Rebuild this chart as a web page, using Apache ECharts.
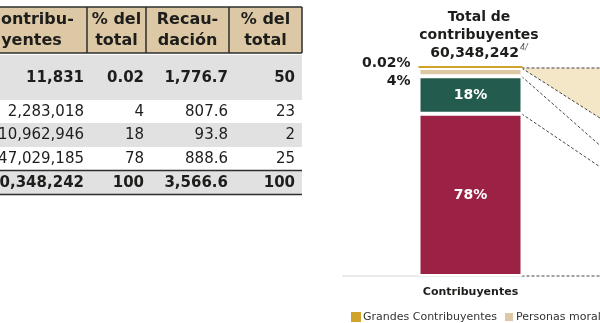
<!DOCTYPE html>
<html>
<head>
<meta charset="utf-8">
<script src="https://cdn.jsdelivr.net/npm/echarts@6/dist/echarts.min.js"></script>
<style>
  html, body { margin: 0; padding: 0; background: #fff; }
  #chart { width: 600px; height: 323px; }
</style>
</head>
<body>
<div id="chart"></div>
<script>
// Taxpayer groups, in table / legend order
const segmentNames = ['Grandes Contribuyentes', 'Personas morales', 'Personas físicas', 'Asalariados'];
const barCategories = ['Contribuyentes', 'Recaudación'];
const contribuyentesCount = [11831, 2283018, 10962946, 47029185];
const contribuyentesPct = [0.02, 4, 18, 78];
const recaudacionAmount = [1776.7, 807.6, 93.8, 888.6];
const recaudacionPct = [50, 23, 2, 25];
const totalContribuyentes = 60348242;
const totalRecaudacion = 3566.6;
const totalPct = 100;
const tableHeaders = ['Contribu-\nyentes', '% del\ntotal', 'Recau-\ndación', '% del\ntotal'];
const titleLines = ['Total de', 'contribuyentes'];
const titleFootnote = '4/';

// ---- styling and layout ----
const FONT = 'DejaVu Sans';
const INK = '#1d1d1b';
const RULE = '#2e2e2e';
const HEADER_FILL = '#dcc8a4';
const STRIPE = '#e1e1e1';
const barColors = ['#d1a32a', '#dcc8a4', '#235b4e', '#9b2245'];
const BAR_WIDTH = 104;      // includes the white 1px edge on each side
const VISIBLE_HALF = 51;    // half of the painted bar width

const colEdges = [-24, 87, 146, 229, 302];
const colTextRight = [84, 144, 228, 295];
const headerBand = [7, 53];
const rowBands = [[55, 100], [100, 123], [123, 147], [147, 170.5], [170.5, 194.5]];
const rowStriped = [true, false, true, false, true];
const rowBold = [true, false, false, false, true];

const fmtInt = v => v.toLocaleString('en-US');
const fmtDec = v => v.toLocaleString('en-US', { minimumFractionDigits: 1, maximumFractionDigits: 1 });
const fmtPct = v => String(v);

// Table cells, one row per group plus the total row
const tableRows = segmentNames.map((_, i) => [
  fmtInt(contribuyentesCount[i]), fmtPct(contribuyentesPct[i]),
  fmtDec(recaudacionAmount[i]), fmtPct(recaudacionPct[i])
]);
tableRows.push([fmtInt(totalContribuyentes), fmtPct(totalPct), fmtDec(totalRecaudacion), fmtPct(totalPct)]);

function line(x1, y1, x2, y2, w) {
  return { type: 'line', shape: { x1, y1, x2, y2 }, style: { stroke: RULE, lineWidth: w }, z: 5 };
}

function buildTable() {
  const els = [];
  const left = colEdges[0], right = colEdges[colEdges.length - 1];
  // header
  els.push({ type: 'rect', shape: { x: left, y: headerBand[0], width: right - left, height: headerBand[1] - headerBand[0] },
             style: { fill: HEADER_FILL }, z: 1 });
  els.push(line(left, headerBand[0], right, headerBand[0], 1.5));
  els.push(line(left, headerBand[1], right, headerBand[1], 1.5));
  colEdges.slice(1).forEach(x => els.push(line(x, headerBand[0], x, headerBand[1], 1.5)));
  tableHeaders.forEach((h, c) => {
    els.push({ type: 'text', x: (colEdges[c] + colEdges[c + 1]) / 2, y: (headerBand[0] + headerBand[1]) / 2, z: 6,
      style: { text: h, fill: INK, fontFamily: FONT, fontWeight: 'bold', fontSize: 16, lineHeight: 21,
               align: 'center', verticalAlign: 'middle' } });
  });
  // body
  tableRows.forEach((cells, r) => {
    const [y0, y1] = rowBands[r];
    if (rowStriped[r]) {
      els.push({ type: 'rect', shape: { x: left, y: y0, width: right - left, height: y1 - y0 }, style: { fill: STRIPE }, z: 1 });
    }
    cells.forEach((txt, c) => {
      els.push({ type: 'text', x: colTextRight[c], y: (y0 + y1) / 2 + 0.5, z: 6,
        style: { text: txt, fill: INK, fontFamily: FONT, fontWeight: rowBold[r] ? 'bold' : 'normal', fontSize: 15,
                 align: 'right', verticalAlign: 'middle' } });
    });
  });
  const totalBand = rowBands[rowBands.length - 1];
  els.push(line(left, totalBand[0], right, totalBand[0], 1.5));
  els.push(line(left, totalBand[1], right, totalBand[1], 1.5));
  return els;
}

// Title over the contribuyentes bar
const titleGraphic = {
  type: 'text', x: 479, y: 8, z: 6,
  style: {
    text: titleLines.map(t => '{t|' + t + '}').join('\n') + '\n{t|' + fmtInt(totalContribuyentes) + '}{s|' + titleFootnote + '}',
    align: 'center', verticalAlign: 'top',
    rich: {
      t: { fontFamily: FONT, fontWeight: 'bold', fontSize: 14, lineHeight: 18, fill: INK },
      s: { fontFamily: FONT, fontStyle: 'italic', fontSize: 8, lineHeight: 18, fill: '#555', verticalAlign: 'top', padding: [0, 0, 0, 1] }
    }
  }
};

// Stacked bars, bottom segment first
const labelInside = { show: true, position: 'inside', color: '#fff', fontFamily: FONT, fontWeight: 'bold', fontSize: 14,
                      formatter: p => p.value + '%' };
const labelSide = (dy) => ({ show: true, position: 'left', distance: 8, offset: [0, dy], color: INK,
                             fontFamily: FONT, fontWeight: 'bold', fontSize: 14, formatter: p => p.value + '%' });

const barSeries = [];
for (let i = segmentNames.length - 1; i >= 0; i--) {
  const isGold = i === 0;
  const isTan = i === 1;
  const first = { value: contribuyentesPct[i] };
  const second = { value: recaudacionPct[i] };
  if (isGold) { first.label = labelSide(-4); second.label = labelInside; }
  else if (isTan) { first.label = labelSide(9); second.label = Object.assign({}, labelInside, { color: INK }); }
  else { first.label = labelInside; second.label = labelInside; }
  barSeries.push({
    name: segmentNames[i], type: 'bar', stack: 'total', barWidth: BAR_WIDTH, clip: false,
    barMinHeight: isGold ? 2 : 0,
    itemStyle: { color: barColors[i], borderColor: '#fff', borderWidth: isGold ? 0 : 2 },
    data: [first, second],
    z: 3
  });
}

// cumulative segment boundaries, from the bottom of a stack upward
function stackBounds(arr) {
  const out = [0];
  for (let i = arr.length - 1; i >= 0; i--) out.push(out[out.length - 1] + arr[i]);
  return out;
}

// Dashed connectors between the two stacks, with the top group's band shaded
const connectorSeries = {
  type: 'custom', name: 'conectores', silent: true, z: 1,
  data: [[0, 0]],
  renderItem(params, api) {
    const L = v => { const p = api.coord([0, v]); return [p[0] + VISIBLE_HALF, p[1]]; };
    const R = v => { const p = api.coord([1, v]); return [p[0] - VISIBLE_HALF, p[1]]; };
    const lb = stackBounds(contribuyentesPct);
    const rb = stackBounds(recaudacionPct);
    const n = lb.length - 1;
    const children = [];
    children.push({ type: 'polygon', shape: { points: [L(lb[n]), R(rb[n]), R(rb[n - 1]), L(lb[n - 1])] },
                    style: { fill: '#f4e7c8' } });
    for (let k = 0; k <= n; k++) {
      const a = L(lb[k]), b = R(rb[k]);
      children.push({ type: 'line', shape: { x1: a[0], y1: a[1], x2: b[0], y2: b[1] },
                      style: { stroke: '#444', lineWidth: 1, lineDash: [3, 2] } });
    }
    const base = L(0);
    children.push({ type: 'line', shape: { x1: params.coordSys.x + 4, y1: base[1], x2: base[0], y2: base[1] },
                    style: { stroke: '#d6d6d6', lineWidth: 1 } });
    return { type: 'group', children };
  }
};

const chart = echarts.init(document.getElementById('chart'), null, { renderer: 'canvas' });
chart.setOption({
  animation: false,
  backgroundColor: '#fff',
  textStyle: { fontFamily: FONT },
  grid: { left: 338, top: 68, width: 530, height: 208, outerBoundsMode: 'none', containLabel: false },
  legend: {
    data: segmentNames, left: 346, top: 306, width: 900, icon: 'rect',
    itemWidth: 10, itemHeight: 10, itemGap: 6,
    textStyle: { fontFamily: FONT, fontSize: 11, color: '#333', padding: [0, 0, 0, -3] }
  },
  xAxis: {
    type: 'category', data: barCategories,
    axisLine: { show: false }, axisTick: { show: false },
    axisLabel: { color: INK, fontFamily: FONT, fontWeight: 'bold', fontSize: 11, margin: 11 }
  },
  yAxis: { type: 'value', min: 0, max: 100, show: false },
  series: [connectorSeries].concat(barSeries),
  graphic: buildTable().concat([titleGraphic])
});
</script>
</body>
</html>
